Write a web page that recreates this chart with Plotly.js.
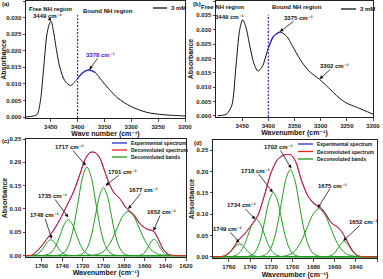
<!DOCTYPE html>
<html><head><meta charset="utf-8">
<script src="https://cdn.plot.ly/plotly-3.0.1.min.js"></script>
<style>html,body{margin:0;padding:0;background:#fff}#chart{width:383px;height:279px}</style>
</head><body><div id="chart"></div>
<script>
// ---------- Panel (a): NH stretch, 3 mM ----------
const waveA = [3496, 3490, 3480, 3475, 3469, 3463, 3457, 3452, 3449, 3445, 3439, 3433, 3424, 3413, 3400, 3391, 3379, 3367, 3355, 3343, 3325, 3301, 3271, 3241, 3211, 3200];
const absA  = [0, 0.0001, 0.0004, 0.0008, 0.005, 0.015, 0.025, 0.0283, 0.0288, 0.026, 0.020, 0.015, 0.011, 0.0095, 0.0116, 0.0133, 0.0142, 0.0134, 0.011, 0.0087, 0.0057, 0.0032, 0.0014, 0.0007, 0.0004, 0.0003];
const boundEndA = 3367;
// ---------- Panel (b) ----------
const waveB = [3497, 3488, 3480, 3470, 3462, 3455, 3449, 3443, 3435, 3428, 3420, 3412, 3400, 3390, 3378, 3365, 3350, 3335, 3320, 3302, 3285, 3265, 3250, 3230, 3200];
const absB  = [0, 0.0002, 0.0006, 0.0035, 0.017, 0.0297, 0.0335, 0.031, 0.024, 0.0185, 0.0156, 0.017, 0.0236, 0.0277, 0.0292, 0.0277, 0.023, 0.0185, 0.0152, 0.0127, 0.0098, 0.0063, 0.0044, 0.0029, 0.0006];
const boundEndB = 3378;
const BOUND_EDGE = 3400;
const seriesNameAB = '3 mM';

// ---------- Panel (c): amide I deconvolution ----------
const waveC = [1778, 1770, 1768, 1761.5, 1755, 1748.5, 1742, 1735.5, 1729, 1722.7, 1717.8, 1713, 1708, 1703.3, 1698.5, 1693.6, 1688.8, 1684, 1679, 1676, 1671, 1664.5, 1658, 1651.6, 1646.8, 1642, 1637, 1632, 1617];
const expC  = [0, 0.0003, 0.002, 0.016, 0.035, 0.054, 0.078, 0.107, 0.137, 0.175, 0.206, 0.221, 0.221, 0.208, 0.179, 0.150, 0.132, 0.122, 0.105, 0.098, 0.089, 0.068, 0.057, 0.052, 0.035, 0.013, 0.002, 0.0002, 0];
const fitC  = [0, 0.0005, 0.003, 0.017, 0.035, 0.053, 0.078, 0.107, 0.136, 0.175, 0.206, 0.221, 0.221, 0.209, 0.179, 0.150, 0.132, 0.122, 0.105, 0.098, 0.089, 0.068, 0.057, 0.053, 0.035, 0.014, 0.003, 0.0003, 0];
const bandC1x = [1778, 1772, 1769, 1766, 1763, 1760, 1757, 1754, 1751, 1748, 1745, 1742, 1739, 1736, 1733, 1730, 1617];
const bandC1y = [0, 0.0001, 0.0004, 0.0015, 0.0046, 0.0110, 0.0206, 0.0300, 0.0340, 0.0300, 0.0206, 0.0110, 0.0046, 0.0015, 0.0004, 0.0001, 0];
const bandC2x = [1778, 1760.25, 1756.5, 1752.75, 1749, 1745.25, 1741.5, 1737.75, 1734, 1730.25, 1726.5, 1722.75, 1719, 1715.25, 1711.5, 1707.75, 1617];
const bandC2y = [0, 0.0002, 0.0009, 0.0034, 0.0104, 0.0250, 0.0467, 0.0680, 0.0770, 0.0680, 0.0467, 0.0250, 0.0104, 0.0034, 0.0009, 0.0002, 0];
const bandC3x = [1778, 1745.75, 1741.5, 1737.25, 1733, 1728.75, 1724.5, 1720.25, 1716, 1711.75, 1707.5, 1703.25, 1699, 1694.75, 1690.5, 1686.25, 1617];
const bandC3y = [0, 0.0004, 0.0021, 0.0083, 0.0257, 0.0617, 0.1152, 0.1677, 0.1900, 0.1677, 0.1152, 0.0617, 0.0257, 0.0083, 0.0021, 0.0004, 0];
const bandC4x = [1778, 1726.25, 1722.5, 1718.75, 1715, 1711.25, 1707.5, 1703.75, 1700, 1696.25, 1692.5, 1688.75, 1685, 1681.25, 1677.5, 1673.75, 1617];
const bandC4y = [0, 0.0003, 0.0016, 0.0064, 0.0198, 0.0474, 0.0886, 0.1288, 0.1460, 0.1288, 0.0886, 0.0474, 0.0198, 0.0064, 0.0016, 0.0003, 0];
const bandC5x = [1778, 1714.5, 1709, 1703.5, 1698, 1692.5, 1687, 1681.5, 1676, 1670.5, 1665, 1659.5, 1654, 1648.5, 1643, 1637.5, 1617];
const bandC5y = [0, 0.0002, 0.0011, 0.0042, 0.0129, 0.0308, 0.0576, 0.0838, 0.0950, 0.0838, 0.0576, 0.0308, 0.0129, 0.0042, 0.0011, 0.0002, 0];
const bandC6x = [1778, 1668.5, 1666, 1663.5, 1661, 1658.5, 1656, 1653.5, 1651, 1648.5, 1646, 1643.5, 1641, 1638.5, 1636, 1633.5, 1617];
const bandC6y = [0, 0.0001, 0.0004, 0.0015, 0.0047, 0.0114, 0.0212, 0.0309, 0.0350, 0.0309, 0.0212, 0.0114, 0.0047, 0.0015, 0.0004, 0.0001, 0];

// ---------- Panel (d) ----------
const waveD = [1778, 1768, 1764.3, 1758, 1751.7, 1745.4, 1739, 1732.8, 1726.5, 1720, 1713.7, 1707.6, 1701.3, 1696.5, 1691.8, 1685.5, 1679.3, 1674.5, 1669.8, 1663.5, 1657, 1652.4, 1647.7, 1643, 1638.2, 1632, 1617];
const expD  = [0, 0.0001, 0.0015, 0.013, 0.036, 0.053, 0.073, 0.096, 0.143, 0.198, 0.229, 0.239, 0.239, 0.221, 0.183, 0.144, 0.125, 0.118, 0.106, 0.081, 0.069, 0.055, 0.034, 0.013, 0.002, 0.0002, 0];
const fitD  = [0, 0.0003, 0.002, 0.014, 0.037, 0.053, 0.073, 0.096, 0.143, 0.198, 0.229, 0.239, 0.239, 0.221, 0.182, 0.143, 0.123, 0.116, 0.104, 0.080, 0.069, 0.055, 0.034, 0.014, 0.002, 0.0002, 0];
const bandD1x = [1778, 1771, 1768, 1765, 1762, 1759, 1756, 1753, 1750, 1747, 1744, 1741, 1738, 1735, 1732, 1729, 1617];
const bandD1y = [0, 0.0001, 0.0003, 0.0013, 0.0041, 0.0097, 0.0182, 0.0265, 0.0300, 0.0265, 0.0182, 0.0097, 0.0041, 0.0013, 0.0003, 0.0001, 0];
const bandD2x = [1778, 1760.25, 1756.5, 1752.75, 1749, 1745.25, 1741.5, 1737.75, 1734, 1730.25, 1726.5, 1722.75, 1719, 1715.25, 1711.5, 1707.75, 1617];
const bandD2y = [0, 0.0002, 0.0010, 0.0039, 0.0119, 0.0286, 0.0534, 0.0777, 0.0880, 0.0777, 0.0534, 0.0286, 0.0119, 0.0039, 0.0010, 0.0002, 0];
const bandD3x = [1778, 1744.25, 1740.5, 1736.75, 1733, 1729.25, 1725.5, 1721.75, 1718, 1714.25, 1710.5, 1706.75, 1703, 1699.25, 1695.5, 1691.75, 1617];
const bandD3y = [0, 0.0003, 0.0017, 0.0066, 0.0204, 0.0490, 0.0916, 0.1333, 0.1510, 0.1333, 0.0916, 0.0490, 0.0204, 0.0066, 0.0017, 0.0003, 0];
const bandD4x = [1778, 1731.75, 1727.5, 1723.25, 1719, 1714.75, 1710.5, 1706.25, 1702, 1697.75, 1693.5, 1689.25, 1685, 1680.75, 1676.5, 1672.25, 1617];
const bandD4y = [0, 0.0005, 0.0023, 0.0090, 0.0277, 0.0666, 0.1243, 0.1809, 0.2050, 0.1809, 0.1243, 0.0666, 0.0277, 0.0090, 0.0023, 0.0005, 0];
const bandD5x = [1778, 1713.5, 1708, 1702.5, 1697, 1691.5, 1686, 1680.5, 1675, 1669.5, 1664, 1658.5, 1653, 1647.5, 1642, 1636.5, 1617];
const bandD5y = [0, 0.0002, 0.0013, 0.0050, 0.0153, 0.0367, 0.0685, 0.0997, 0.1130, 0.0997, 0.0685, 0.0367, 0.0153, 0.0050, 0.0013, 0.0002, 0];
const bandD6x = [1778, 1670.25, 1667.5, 1664.75, 1662, 1659.25, 1656.5, 1653.75, 1651, 1648.25, 1645.5, 1642.75, 1640, 1637.25, 1634.5, 1631.75, 1617];
const bandD6y = [0, 0.0001, 0.0004, 0.0015, 0.0047, 0.0114, 0.0212, 0.0309, 0.0350, 0.0309, 0.0212, 0.0114, 0.0047, 0.0015, 0.0004, 0.0001, 0];

const legendNames = ['Experimental spectrum', 'Deconvoluted spectrum', 'Deconvoluted bands'];
const peakLabelsC = ['1748', '1735', '1717', '1701', '1677', '1652'];
const peakLabelsD = ['1749', '1734', '1718', '1702', '1675', '1652'];
const xTicksAB = [3200, 3250, 3300, 3350, 3400, 3450];
const xTicksCD = [1620, 1640, 1660, 1680, 1700, 1720, 1740, 1760];

// ---------- styles ----------
const W = 383, H = 279;
const FONT = 'Liberation Sans, Arial, DejaVu Sans, sans-serif';
const BLACK = '#111111', BLUE = '#2a2ad8', RED = '#f01e1e', GREEN = '#1f9a1f';
const px = v => v / W, py = v => 1 - v / H;
const cm = ' cm\u207B\u00B9';

function band(x, y, xa, ya) {
  return {x, y, xaxis: xa, yaxis: ya, type: 'scatter', mode: 'lines', name: legendNames[2],
    showlegend: false, line: {color: GREEN, width: 1, shape: 'spline', smoothing: 0.8}};
}
function line(x, y, xa, ya, color, name, w) {
  return {x, y, xaxis: xa, yaxis: ya, type: 'scatter', mode: 'lines', name, showlegend: false,
    line: {color, width: w || 1, shape: 'spline', smoothing: 0.8}};
}
function sub(xs, ys, lo, hi) {
  const ox = [], oy = [];
  xs.forEach((v, i) => { if (v <= hi && v >= lo) { ox.push(v); oy.push(ys[i]); } });
  return [ox, oy];
}
const [bxA, byA] = sub(waveA, absA, boundEndA, BOUND_EDGE);
const [bxB, byB] = sub(waveB, absB, boundEndB, BOUND_EDGE);

const traces = [
  line(waveA, absA, 'x', 'y', BLACK, seriesNameAB),
  line(bxA, byA, 'x', 'y', BLUE, 'Bound NH', 1.2),
  line(waveB, absB, 'x2', 'y2', BLACK, seriesNameAB),
  line(bxB, byB, 'x2', 'y2', BLUE, 'Bound NH', 1.2),
  line(waveC, expC, 'x3', 'y3', BLUE, legendNames[0]),
  band(bandC1x, bandC1y, 'x3', 'y3'), band(bandC2x, bandC2y, 'x3', 'y3'), band(bandC3x, bandC3y, 'x3', 'y3'),
  band(bandC4x, bandC4y, 'x3', 'y3'), band(bandC5x, bandC5y, 'x3', 'y3'), band(bandC6x, bandC6y, 'x3', 'y3'),
  line(waveC, fitC, 'x3', 'y3', RED, legendNames[1]),
  line(waveD, expD, 'x4', 'y4', BLUE, legendNames[0]),
  band(bandD1x, bandD1y, 'x4', 'y4'), band(bandD2x, bandD2y, 'x4', 'y4'), band(bandD3x, bandD3y, 'x4', 'y4'),
  band(bandD4x, bandD4y, 'x4', 'y4'), band(bandD5x, bandD5y, 'x4', 'y4'), band(bandD6x, bandD6y, 'x4', 'y4'),
  line(waveD, fitD, 'x4', 'y4', RED, legendNames[1])
];

// axis geometry (pixel domains and value ranges)
const G = {
  a: {x0: 26, x1: 185, xr: [3496, 3200], y0: 118, y1: 1, yr: [-0.0003, 0.035]},
  b: {x0: 216, x1: 373, xr: [3500, 3200], y0: 117, y1: 1, yr: [-0.0004, 0.040]},
  c: {x0: 26, x1: 186, xr: [1775, 1620], y0: 257, y1: 139, yr: [-0.003, 0.25]},
  d: {x0: 213, x1: 377, xr: [1775, 1620], y0: 258, y1: 140, yr: [-0.003, 0.274]}
};
const tickFont = {family: FONT, size: 6, color: '#222', weight: 'bold'};
const titleFont = {family: FONT, size: 7, color: '#111', weight: 'bold'};
function xax(g, tickvals, title, anchor, standoff) {
  return {domain: [px(g.x0), px(g.x1)], range: g.xr, tickvals, anchor, showline: true, mirror: true,
    linecolor: '#222', linewidth: 1, ticks: 'outside', ticklen: 2.5, tickwidth: 0.8, tickcolor: '#222',
    tickfont: tickFont, showgrid: false, zeroline: false, automargin: false, ticklabelstandoff: 0,
    title: {text: title, font: titleFont, standoff: standoff}};
}
function yax(g, dtick, fmt, anchor) {
  return {domain: [py(g.y0), py(g.y1)], range: g.yr, dtick, tick0: 0, tickformat: fmt, anchor,
    showline: true, mirror: true, linecolor: '#222', linewidth: 1, ticks: 'outside', ticklen: 2.5,
    tickwidth: 0.8, tickcolor: '#222', tickfont: tickFont, showgrid: false, zeroline: false,
    automargin: false, ticklabelstandoff: 0, title: {text: 'Absorbance', font: titleFont, standoff: 1}};
}

const layout = {
  width: W, height: H, margin: {l: 0, r: 0, t: 0, b: 0}, paper_bgcolor: '#fff', plot_bgcolor: '#fff',
  showlegend: false,
  xaxis:  xax(G.a, xTicksAB, 'Wave number (' + cm.trim() + ')', 'y', 2),
  yaxis:  yax(G.a, 0.005, '.3f', 'x'),
  xaxis2: xax(G.b, xTicksAB, 'Wavenumber (' + cm.trim() + ')', 'y2', 2),
  yaxis2: yax(G.b, 0.005, '.3f', 'x2'),
  xaxis3: xax(G.c, xTicksCD, 'Wavenumber (' + cm.trim() + ')', 'y3', 2),
  yaxis3: yax(G.c, 0.05, '.2f', 'x3'),
  xaxis4: xax(G.d, xTicksCD, 'Wavenumber (' + cm.trim() + ')', 'y4', 4),
  yaxis4: yax(G.d, 0.05, '.2f', 'x4'),
  shapes: [], annotations: []
};

// dashed boundary lines
layout.shapes.push({type: 'line', xref: 'x', yref: 'y', x0: BOUND_EDGE, x1: BOUND_EDGE, y0: -0.0003, y1: 0.0308,
  line: {color: BLUE, width: 1.2, dash: '2px,1.5px'}});
layout.shapes.push({type: 'line', xref: 'x2', yref: 'y2', x0: BOUND_EDGE, x1: BOUND_EDGE, y0: -0.0004, y1: 0.0352,
  line: {color: BLUE, width: 1.2, dash: '2px,1.5px'}});

const annFont = (c, s) => ({family: FONT, size: s || 6, color: c || '#111', weight: 'bold'});
function txt(x, y, text, color, size, anchor) {
  layout.annotations.push({xref: 'paper', yref: 'paper', x: px(x), y: py(y), text, showarrow: false,
    xanchor: anchor || 'center', yanchor: 'middle', font: annFont(color, size)});
}
// labelled arrow: head at data point (hx, hy) of panel p, text centred at pixel (tx, ty)
const AXN = {a: ['x', 'y'], b: ['x2', 'y2'], c: ['x3', 'y3'], d: ['x4', 'y4']};
function pointer(p, hx, hy, tx, ty, text, color) {
  const g = G[p];
  const hxp = g.x0 + (hx - g.xr[0]) / (g.xr[1] - g.xr[0]) * (g.x1 - g.x0);
  const hyp = g.y0 + (hy - g.yr[0]) / (g.yr[1] - g.yr[0]) * (g.y1 - g.y0);
  layout.annotations.push({xref: AXN[p][0], yref: AXN[p][1], x: hx, y: hy, ax: tx - hxp, ay: ty - hyp,
    text, showarrow: true, arrowhead: 2, arrowsize: 0.9, arrowwidth: 0.8, arrowcolor: '#111',
    standoff: 0, startstandoff: 0, borderpad: 0, font: annFont(color, 6)});
}
function legendLine(x0, x1, y, color) {
  layout.shapes.push({type: 'line', xref: 'paper', yref: 'paper', x0: px(x0), x1: px(x1), y0: py(y), y1: py(y),
    line: {color, width: 1.3}});
}

// panel labels
txt(0, 4, '(a)', '#111', 6, 'left');
txt(191, 4, '(b)', '#111', 6, 'left');
txt(0, 141, '(c)', '#111', 6, 'left');
txt(192, 143, '(d)', '#111', 6, 'left');

// (a)
txt(50, 9, 'Free NH region');
pointer('a', 3449, 0.0289, 47, 15.5, '3449' + cm);
txt(108, 11, 'Bound NH region');
pointer('a', 3378, 0.0143, 100, 55, '3378' + cm, BLUE);
legendLine(153, 167, 8, BLACK);
txt(169, 8, seriesNameAB, '#111', 6, 'left');

// (b)
txt(222, 7.5, 'Free NH region');
pointer('b', 3449, 0.0336, 229, 16.5, '3449' + cm);
txt(297, 7.5, 'Bound NH region');
pointer('b', 3378, 0.0293, 298, 18, '3375' + cm);
pointer('b', 3302, 0.0128, 334, 66, '3302' + cm);
legendLine(341, 356, 9, BLACK);
txt(358, 9, seriesNameAB, '#111', 6, 'left');

// (c)
pointer('c', 1717, 0.193, 70, 147, peakLabelsC[2] + cm);
pointer('c', 1698, 0.150, 123, 172, peakLabelsC[3] + cm);
pointer('c', 1734, 0.082, 52.5, 196, peakLabelsC[1] + cm);
pointer('c', 1750, 0.036, 44, 215.5, peakLabelsC[0] + cm);
pointer('c', 1676, 0.100, 143.5, 190, peakLabelsC[4] + cm);
pointer('c', 1651.5, 0.053, 161.5, 212, peakLabelsC[5] + cm);
legendLine(112, 127, 143, BLUE); txt(129, 143, legendNames[0], '#111', 5, 'left');
legendLine(112, 127, 150, RED); txt(129, 150, legendNames[1], '#111', 5, 'left');
legendLine(112, 127, 157, GREEN); txt(129, 157, legendNames[2], '#111', 5, 'left');

// (d)
pointer('d', 1701, 0.207, 278.5, 147, peakLabelsD[3] + cm);
pointer('d', 1718.5, 0.151, 256, 170.5, peakLabelsD[2] + cm);
pointer('d', 1735, 0.088, 242, 205.5, peakLabelsD[1] + cm);
pointer('d', 1750, 0.033, 227.5, 229, peakLabelsD[0] + cm);
pointer('d', 1676, 0.114, 332, 185.5, peakLabelsD[4] + cm);
pointer('d', 1652, 0.037, 363.5, 222, peakLabelsD[5] + cm);
legendLine(298, 313, 144, BLUE); txt(315, 144, legendNames[0], '#111', 5, 'left');
legendLine(298, 313, 151.5, RED); txt(315, 151.5, legendNames[1], '#111', 5, 'left');
legendLine(298, 313, 159, GREEN); txt(315, 159, legendNames[2], '#111', 5, 'left');

Plotly.newPlot('chart', traces, layout, {staticPlot: true, displayModeBar: false});
</script></body></html>
